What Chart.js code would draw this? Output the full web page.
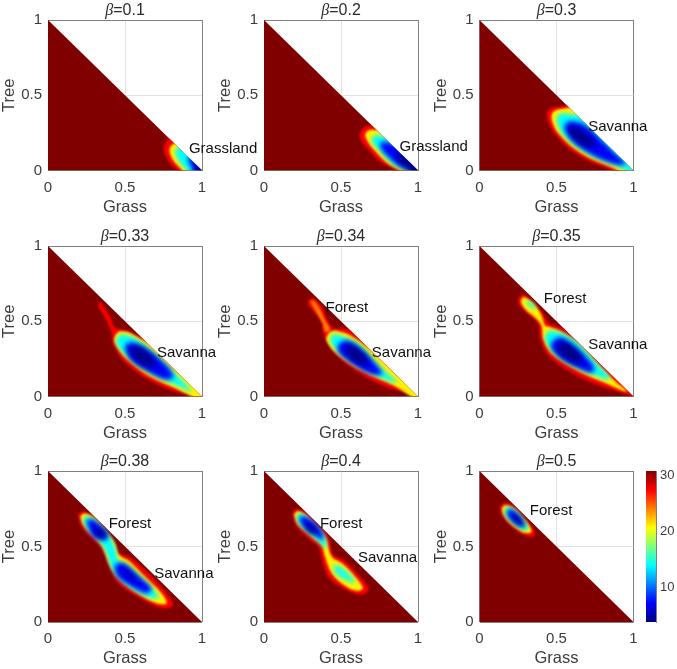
<!DOCTYPE html>
<html><head><meta charset="utf-8">
<style>html,body{margin:0;padding:0;background:#fff;width:677px;height:669px;overflow:hidden}canvas{position:absolute;display:block}</style>
<script src="https://cdn.jsdelivr.net/npm/chart.js@4/dist/chart.umd.js"></script>
</head><body>
<script>
const betaTitles=['β=0.1','β=0.2','β=0.3','β=0.33','β=0.34','β=0.35','β=0.38','β=0.4','β=0.5'];
const axisTicks=[0,0.5,1];
const colorTicks=[10,20,30];
const colorMin=3.9, colorMax=30.7;
const domain=[[0,0],[1,0],[0,1]];

// Contour rings: [level, [[grass,tree],...]]
const p1=[
[27.5,[[.80,.23],[.775,.205],[.757,.175],[.752,.145],[.762,.105],[.785,.06],[.815,.025],[.85,-.005],[.87,-.04],[1.06,-.04],[1.06,.25]]],
[21,[[.835,.19],[.805,.17],[.79,.145],[.795,.105],[.815,.065],[.845,.03],[.875,-.005],[.89,-.04],[1.06,-.04],[1.06,.25]]],
[14,[[.865,.17],[.835,.145],[.825,.12],[.84,.08],[.865,.04],[.895,.01],[.925,-.04],[1.06,-.04],[1.06,.2]]],
[7,[[.925,.11],[.91,.07],[.93,.03],[.96,-.04],[1.06,-.04],[1.06,.12]]],
[4,[[.975,.05],[.96,.02],[.98,-.04],[1.06,-.04],[1.06,.06]]]];
const p2=[
[27.5,[[.74,.29],[.70,.30],[.665,.295],[.635,.27],[.62,.236],[.635,.19],[.672,.147],[.755,.058],[.853,.003],[.90,-.04],[1.06,-.04],[1.06,.3]]],
[21,[[.775,.26],[.70,.27],[.67,.26],[.657,.236],[.675,.19],[.707,.147],[.798,.052],[.875,.003],[.92,-.04],[1.06,-.04],[1.06,.3]]],
[14,[[.81,.22],[.733,.236],[.70,.213],[.705,.18],[.738,.147],[.831,.047],[.918,.003],[.96,-.04],[1.06,-.04],[1.06,.22]]],
[7,[[.86,.17],[.79,.19],[.755,.18],[.765,.14],[.798,.10],[.886,.025],[.95,.003],[.98,-.04],[1.06,-.04],[1.06,.17]]],
[4,[[.91,.11],[.86,.10],[.875,.06],[.92,.025],[.975,-.04],[1.06,-.04],[1.06,.11]]]];
const p3=[
[27.5,[[.58,.44],[.53,.425],[.479,.42],[.445,.40],[.436,.369],[.45,.31],[.479,.258],[.566,.158],[.697,.07],[.85,.003],[.90,-.04],[1.06,-.04],[1.06,.47]]],
[21,[[.60,.42],[.54,.41],[.50,.402],[.472,.38],[.468,.347],[.485,.29],[.512,.247],[.599,.158],[.73,.074],[.893,.003],[.93,-.04],[1.06,-.04],[1.06,.42]]],
[14,[[.64,.37],[.58,.375],[.534,.38],[.505,.36],[.50,.336],[.515,.285],[.545,.236],[.632,.158],[.763,.081],[.948,.003],[.98,-.04],[1.06,-.04],[1.06,.37]]],
[7,[[.577,.325],[.64,.32],[.70,.29],[.80,.195],[.90,.095],[.95,.05],[.915,.037],[.828,.059],[.697,.125],[.599,.203],[.556,.27],[.555,.30]]],
[4,[[.575,.285],[.62,.285],[.68,.25],[.745,.19],[.75,.165],[.70,.16],[.64,.19],[.59,.24]]]];
const p4=[
[27.5,[[.325,.62],[.345,.625],[.372,.58],[.405,.53],[.433,.46],[.498,.443],[.574,.41],[.66,.36],[.76,.27],[1.06,-.02],[1.06,-.04],[.99,-.04],[.976,-.005],[.835,.028],[.661,.106],[.498,.228],[.422,.35],[.411,.427],[.368,.527],[.33,.59]]],
[21,[[.466,.434],[.52,.427],[.596,.385],[.68,.335],[.80,.21],[1.06,-.03],[1.02,-.04],[.835,.051],[.661,.133],[.509,.25],[.433,.361],[.44,.41]]],
[14,[[.477,.416],[.553,.394],[.661,.316],[.79,.19],[.933,.04],[.922,.035],[.835,.073],[.661,.161],[.509,.272],[.444,.35],[.45,.39]]],
[7,[[.498,.328],[.531,.361],[.64,.316],[.77,.206],[.813,.128],[.748,.117],[.618,.184],[.531,.25]]],
[4,[[.531,.328],[.596,.328],[.683,.25],[.694,.2],[.629,.206],[.553,.272]]]];
const p5=[
[27.5,[[.287,.638],[.319,.655],[.374,.60],[.406,.52],[.45,.455],[.537,.45],[.62,.39],[.76,.26],[1.06,-.02],[1.06,-.04],[1.0,-.04],[.995,.007],[.798,.062],[.624,.151],[.461,.284],[.385,.417],[.374,.494],[.319,.572],[.287,.61]]],
[24,[[.30,.635],[.325,.635],[.36,.585],[.395,.51],[.43,.44],[.40,.43],[.38,.49],[.335,.57]]],
[21,[[.461,.439],[.537,.417],[.63,.36],[.76,.25],[.88,.14],[1.06,-.03],[1.02,-.04],[.842,.073],[.646,.162],[.483,.273],[.406,.372],[.425,.425]]],
[14,[[.45,.417],[.526,.394],[.624,.339],[.755,.195],[.864,.096],[.8,.107],[.646,.184],[.494,.284],[.428,.372]]],
[7,[[.483,.35],[.537,.372],[.624,.317],[.733,.206],[.766,.15],[.69,.15],[.559,.228],[.483,.295]]],
[4,[[.526,.339],[.581,.339],[.657,.273],[.679,.228],[.624,.217],[.548,.273]]]];
const p6=[
[27.5,[[.25,.649],[.283,.678],[.349,.627],[.414,.55],[.447,.49],[.512,.465],[.60,.41],[.74,.28],[.87,.145],[1.06,-.02],[1.02,-.04],[.98,.007],[.806,.062],[.61,.151],[.447,.273],[.392,.394],[.381,.483],[.327,.538],[.261,.605]]],
[21,[[.272,.649],[.294,.66],[.36,.605],[.403,.538],[.425,.472],[.457,.461],[.534,.428],[.654,.345],[.784,.2],[.893,.09],[.96,.035],[.926,.04],[.828,.084],[.632,.173],[.468,.284],[.414,.383],[.403,.472],[.36,.527],[.305,.572],[.272,.62]]],
[15,[[.294,.634],[.338,.627],[.37,.583],[.327,.594]]],
[14,[[.447,.439],[.512,.428],[.632,.361],[.763,.217],[.85,.118],[.806,.118],[.654,.184],[.49,.284],[.425,.383]]],
[7,[[.468,.361],[.523,.394],[.621,.328],[.73,.217],[.741,.162],[.675,.173],[.534,.25],[.468,.317]]],
[4,[[.501,.339],[.556,.361],[.643,.295],[.664,.228],[.61,.228],[.534,.273]]]];
const p7=[
[27.5,[[.194,.711],[.227,.733],[.292,.70],[.368,.623],[.422,.545],[.466,.457],[.542,.423],[.64,.335],[.77,.191],[.813,.113],[.748,.091],[.618,.147],[.455,.257],[.401,.357],[.346,.49],[.292,.545],[.216,.634]]],
[21,[[.21,.70],[.238,.718],[.303,.689],[.379,.6],[.433,.523],[.46,.445],[.531,.401],[.618,.313],[.737,.191],[.77,.124],[.705,.124],[.596,.18],[.466,.279],[.405,.368],[.352,.501],[.303,.556],[.227,.645]]],
[14,[[.227,.689],[.26,.70],[.325,.656],[.401,.567],[.44,.479],[.455,.412],[.509,.379],[.596,.302],[.705,.191],[.716,.158],[.64,.169],[.509,.246],[.425,.335],[.37,.479],[.325,.545],[.249,.623]]],
[7,[[.249,.667],[.281,.682],[.346,.634],[.39,.567],[.357,.545],[.292,.567]]],
[7,[[.433,.379],[.488,.39],[.574,.313],[.672,.224],[.64,.191],[.509,.257],[.444,.313]]],
[4,[[.303,.623],[.336,.623],[.379,.578],[.357,.556],[.314,.578]]],
[5.5,[[.477,.357],[.52,.346],[.596,.268],[.564,.268],[.498,.313]]]];
const p8=[
[27.5,[[.184,.722],[.21,.749],[.276,.722],[.352,.645],[.417,.567],[.45,.445],[.515,.412],[.602,.324],[.679,.213],[.624,.18],[.515,.224],[.417,.302],[.374,.423],[.352,.501],[.297,.545],[.21,.634]]],
[21,[[.195,.711],[.221,.733],[.276,.705],[.341,.634],[.396,.567],[.439,.434],[.504,.39],[.581,.313],[.642,.224],[.592,.208],[.504,.257],[.439,.324],[.396,.434],[.374,.512],[.308,.563],[.221,.645]]],
[14,[[.21,.70],[.232,.718],[.276,.696],[.352,.623],[.396,.556],[.406,.479],[.385,.501],[.319,.567],[.23,.645]]],
[14.5,[[.45,.379],[.494,.368],[.559,.313],[.592,.257],[.526,.279],[.461,.324]]],
[7,[[.228,.689],[.254,.70],[.308,.674],[.374,.6],[.385,.545],[.33,.578],[.254,.634]]],
[4,[[.265,.645],[.297,.651],[.341,.6],[.33,.578],[.286,.6]]]];
const p9=[
[27.5,[[.131,.766],[.163,.788],[.229,.766],[.294,.689],[.36,.6],[.349,.567],[.283,.578],[.196,.644],[.142,.711]]],
[21,[[.146,.755],[.168,.773],[.229,.749],[.294,.678],[.338,.607],[.327,.589],[.272,.6],[.196,.655],[.153,.717]]],
[14,[[.163,.744],[.185,.762],[.229,.74],[.294,.662],[.316,.607],[.272,.616],[.207,.667],[.168,.711]]],
[7,[[.179,.733],[.2,.749],[.24,.722],[.294,.644],[.283,.629],[.229,.655],[.185,.7]]],
[4,[[.214,.711],[.24,.711],[.283,.655],[.272,.638],[.229,.667]]]];
const panelRings=[p1,p2,p3,p4,p5,p6,p7,p8,p9];

// Region names: [text, grass, tree]
const labels1=[['Grassland',.915,.15]];
const labels2=[['Grassland',.88,.16]];
const labels3=[['Savanna',.706,.29]];
const labels4=[['Savanna',.707,.29]];
const labels5=[['Forest',.40,.59],['Savanna',.70,.29]];
const labels6=[['Forest',.418,.65],['Savanna',.706,.345]];
const labels7=[['Forest',.394,.65],['Savanna',.69,.32]];
const labels8=[['Forest',.363,.65],['Savanna',.61,.425]];
const labels9=[['Forest',.327,.74]];
const panelLabels=[labels1,labels2,labels3,labels4,labels5,labels6,labels7,labels8,labels9];

// ---- rendering ----
const FONT="'Liberation Sans', Arial, sans-serif";
const TEXT='#3c3c3c', BOX='#808080', GRID='#e2e2e2';
function jet(v){
  const t=Math.min(1,Math.max(0,(v-colorMin)/(colorMax-colorMin)));
  const ch=(x)=>Math.round(255*Math.min(1,Math.max(0,1.5-Math.abs(4*x))));
  return `rgb(${ch(t-.75)},${ch(t-.5)},${ch(t-.25)})`;
}
const blurFor=l=>l>=24?1.0:l>=20?1.3:l>=10?2:l>=6?2.8:3.2;
const triClip={
  id:'triClip',
  beforeDatasetDraw(chart,args){
    const o=chart.options.plugins.triClip;
    if(!o||!o.on||args.index===0) return;
    const {x,y}=chart.scales, c=chart.ctx;
    c.save();
    c.beginPath();
    c.moveTo(x.getPixelForValue(0),y.getPixelForValue(0));
    c.lineTo(x.getPixelForValue(1),y.getPixelForValue(0));
    c.lineTo(x.getPixelForValue(0),y.getPixelForValue(1));
    c.closePath();
    c.clip();
    c.filter=`blur(${blurFor(chart.data.datasets[args.index].level)}px)`;
  },
  afterDatasetDraw(chart,args){
    const o=chart.options.plugins.triClip;
    if(!o||!o.on||args.index===0) return;
    chart.ctx.restore();
  }
};
Chart.unregister(Chart.Filler);
Chart.register(triClip);
Chart.register(Chart.Filler);

const panelText={
  id:'panelText',
  afterDatasetsDraw(chart,args,o){
    const c=chart.ctx,{x,y}=chart.scales;
    c.save();
    c.fillStyle='#111';
    c.textBaseline='middle';c.textAlign='left';
    c.font='15px '+FONT;
    for(const [t,gx,gy] of o.labels) c.fillText(t,x.getPixelForValue(gx),y.getPixelForValue(gy)+.5);
    const rest=o.title.slice(1), sym=o.title[0];
    const f1="italic 16px 'Liberation Serif', serif", f2='16px '+FONT;
    c.font=f1;const w1=c.measureText(sym).width;
    c.font=f2;const w2=c.measureText(rest).width;
    const cx=(chart.chartArea.left+chart.chartArea.right)/2-(w1+w2)/2;
    c.fillStyle='#2a2a2a';
    c.font=f1;c.fillText(sym,cx,11);
    c.font=f2;c.fillText(rest,cx+w1,11);
    c.restore();
  }
};
const pts=a=>a.map(([x,y])=>({x,y}));
const canvasLeft=[0,216,432], canvasTop=[0,226,451], canvasW=[262,262,245], axisW=[48,48,47.5], plotH=[150.5,150.5,151];
function addCanvas(l,t,w,h){
  const cv=document.createElement('canvas');
  cv.width=w;cv.height=h;cv.style.left=l+'px';cv.style.top=t+'px';cv.style.width=w+'px';cv.style.height=h+'px';
  document.body.appendChild(cv);return cv;
}
panelRings.forEach((rings,i)=>{
  const col=i%3,row=Math.floor(i/3),W=canvasW[col],H=218;
  const cv=addCanvas(canvasLeft[col],canvasTop[row],W,H);
  const datasets=[{data:pts(domain),fill:'shape',backgroundColor:jet(colorMax),borderColor:'transparent',borderWidth:0,pointRadius:0,showLine:true,tension:0,order:100,level:colorMax}];
  rings.forEach((r,k)=>{
    const d=pts(r[1]);d.push(d[0]);
    datasets.push({data:d,fill:'shape',backgroundColor:jet(r[0]),borderColor:'transparent',borderWidth:0,pointRadius:0,showLine:true,tension:.35,order:99-k,level:r[0]});
  });
  new Chart(cv,{
    type:'scatter',
    data:{datasets},
    plugins:[panelText],
    options:{
      responsive:false,animation:false,events:[],
      layout:{padding:{top:20,right:W-axisW[col]-154,left:0,bottom:0}},
      plugins:{legend:{display:false},tooltip:{enabled:false},title:{display:false},
        triClip:{on:true},panelText:{title:betaTitles[i],labels:panelLabels[i]}},
      scales:{
        x:{type:'linear',min:0,max:1,
          afterBuildTicks:s=>{s.ticks=axisTicks.map(v=>({value:v}))},
          afterFit:s=>{s.height=H-20-plotH[row]},
          grid:{color:c=>c.tick&&c.tick.value===0.5?GRID:BOX,drawTicks:false,lineWidth:1},
          border:{display:false},
          ticks:{color:TEXT,font:{family:FONT,size:15},padding:8,maxRotation:0,callback:v=>String(v)},
          title:{display:true,text:'Grass',color:TEXT,font:{family:FONT,size:16.5},padding:{top:0,bottom:1}}},
        y:{type:'linear',min:0,max:1,
          afterBuildTicks:s=>{s.ticks=axisTicks.map(v=>({value:v}))},
          afterFit:s=>{s.width=axisW[col]},
          grid:{color:c=>c.tick&&c.tick.value===0.5?GRID:BOX,drawTicks:false,lineWidth:1},
          border:{display:false},
          ticks:{color:TEXT,font:{family:FONT,size:15},padding:6,callback:v=>String(v)},
          title:{display:true,text:'Tree',color:TEXT,font:{family:FONT,size:16.5},padding:{top:0,bottom:0}}}
      }
    }
  });
});
// colour bar
(function(){
  const W=37,H=218;
  const cv=addCanvas(640,451,W,H);
  new Chart(cv,{
    type:'bar',
    data:{labels:[''],datasets:[{data:[[colorMin,colorMax]],barPercentage:1,categoryPercentage:1,borderWidth:0,
      backgroundColor(c){
        const a=c.chart.chartArea;if(!a) return '#000';
        const g=c.chart.ctx.createLinearGradient(0,a.bottom,0,a.top);
        for(let k=0;k<=16;k++) g.addColorStop(k/16,jet(colorMin+(colorMax-colorMin)*k/16));
        return g;
      }}]},
    options:{
      responsive:false,animation:false,events:[],
      layout:{padding:{top:20,left:6,bottom:47,right:0}},
      plugins:{legend:{display:false},tooltip:{enabled:false}},
      scales:{
        x:{display:false},
        y:{position:'right',min:colorMin,max:colorMax,
          afterBuildTicks:s=>{s.ticks=colorTicks.map(v=>({value:v}))},
          afterFit:s=>{s.width=21},
          grid:{display:false,drawTicks:false},border:{display:true,color:BOX},
          ticks:{color:TEXT,font:{family:FONT,size:13},padding:4,callback:v=>String(v)}}
      }
    }
  });
})();
</script>
</body></html>
